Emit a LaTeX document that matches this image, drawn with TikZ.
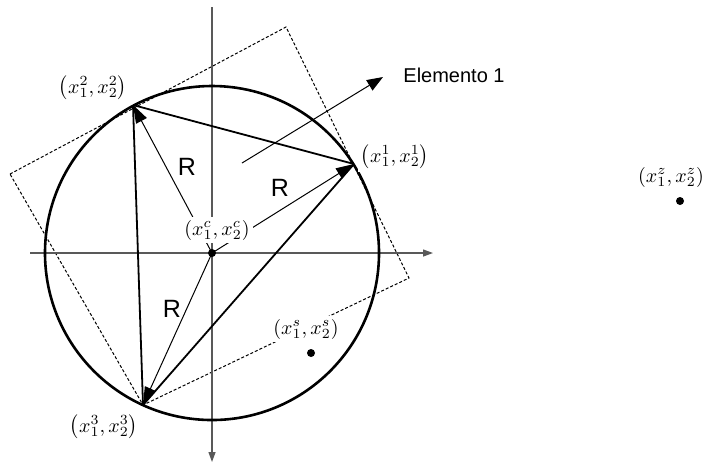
\documentclass[tikz,border=0pt]{standalone}
\usepackage{fontspec}
\setsansfont{Liberation Sans}
\usepackage{tikz}
\usetikzlibrary{arrows.meta,positioning}

\begin{document}
\begin{tikzpicture}[
    x=0.5pt,y=-0.5pt,
    axis/.style={draw=black!65,line width=0.6pt,-{Triangle[length=5pt,width=3.5pt]}},
    frame/.style={draw,line width=0.5pt,dash pattern=on 1.5pt off 1pt},
    rim/.style={draw,line width=1.3pt},
    side/.style={draw,line width=0.9pt},
    rline/.style={draw,line width=0.5pt,-{Triangle[length=9pt,width=6pt]}},
    pointer/.style={draw,line width=0.5pt,-{Triangle[length=8pt,width=6pt]}},
    lbl/.style={fill=white,inner sep=1.5pt},
    rlbl/.style={font=\sffamily\fontsize{12.5}{15}\selectfont,inner sep=0pt},
    dot/.style={circle,fill,inner sep=0pt,minimum size=4pt}
  ]
    \useasboundingbox (0,0) rectangle (704,463);

    \coordinate (c) at (212,253);
    \coordinate (p1) at (354,164);
    \coordinate (p2) at (133,105);
    \coordinate (p3) at (143,405);
    \coordinate (fa) at (10,174);
    \coordinate (fb) at (286,27);
    \coordinate (fc) at (409,278);
    \coordinate (e0) at (242,163);
    \coordinate (e1) at (383,77);
    \coordinate (xl) at (30,253);
    \coordinate (xr) at (433,253);
    \coordinate (yt) at (212,7);
    \coordinate (yb) at (212,462);

    \draw[frame] (fa) -- (fb) -- (fc) -- (p3) -- cycle;
    \draw[axis] (xl) -- (xr);
    \draw[axis] (yt) -- (yb);
    \draw[rim] (c) circle[radius=83.5pt];

    \draw[side] (p2) -- (p1);
    \draw[side] (p2) -- (p3);
    \draw[side] (p3) -- (p1);
    \draw[rline] (c) -- (p1);
    \draw[rline] (c) -- (p2);
    \draw[rline] (c) -- (p3);
    \draw[pointer] (e0) -- (e1);

    \node[rlbl] (r1) at (187,167) {R};
    \node[rlbl] (r2) at (280,188) {R};
    \node[rlbl] (r3) at (172,309) {R};
    \node[anchor=west,inner sep=0pt,font=\sffamily\fontsize{10}{12}\selectfont] (elem) at (403,75) {Elemento 1};

    \node[lbl] (l1) at (395,157) {$\left(x_1^1,x_2^1\right)$};
    \node[lbl] (l2) at (93,88) {$\left(x_1^2,x_2^2\right)$};
    \node[lbl] (l3) at (104,427) {$\left(x_1^3,x_2^3\right)$};
    \node[lbl] (lc) at (217,230) {$\left(x_1^c,x_2^c\right)$};
    \node[lbl] (ls) at (306,329) {$\left(x_1^s,x_2^s\right)$};
    \node[lbl] (lz) at (671,177) {$\left(x_1^z,x_2^z\right)$};

    \node[dot] (cd) at (c) {};
    \node[dot] (sd) at (311,353) {};
    \node[dot] (zd) at (680,201) {};
  \end{tikzpicture}
\end{document}
